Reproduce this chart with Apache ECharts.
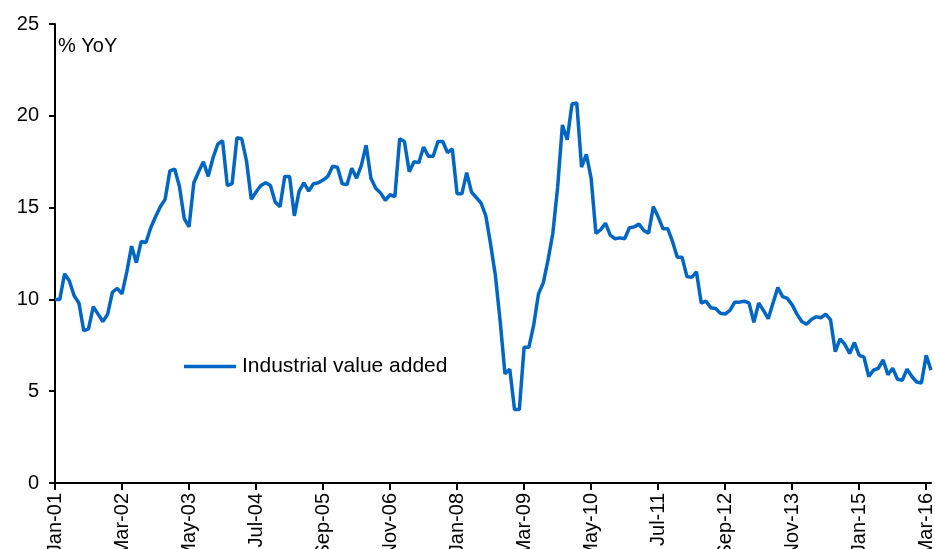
<!DOCTYPE html>
<html>
<head>
<meta charset="utf-8">
<script src="https://cdn.jsdelivr.net/npm/echarts@6/dist/echarts.min.js"></script>
<style>
html,body{margin:0;padding:0;background:#fff;}
#chart{width:935px;height:549px;}
</style>
</head>
<body>
<div id="chart"></div>
<script>
// Month names and years used to build the monthly categories (Jan-01 .. Apr-16)
const monthNames = ['Jan','Feb','Mar','Apr','May','Jun','Jul','Aug','Sep','Oct','Nov','Dec'];
const years = ['01','02','03','04','05','06','07','08','09','10','11','12','13','14','15','16'];
const lastYearMonths = 4; // 2016 data runs to April

// Industrial value added, % YoY, one array per year
const iva2001 = [10.0, 10.0, 11.4, 11.0, 10.2, 9.8, 8.3, 8.4, 9.6, 9.2, 8.8, 9.2];
const iva2002 = [10.4, 10.6, 10.3, 11.5, 12.9, 12.0, 13.15, 13.1, 13.9, 14.5, 15.05, 15.45];
const iva2003 = [17.0, 17.1, 16.15, 14.4, 13.95, 16.35, 16.95, 17.5, 16.7, 17.7, 18.45, 18.65];
const iva2004 = [16.2, 16.3, 18.8, 18.75, 17.55, 15.45, 15.85, 16.2, 16.35, 16.2, 15.3, 15.05];
const iva2005 = [16.7, 16.7, 14.55, 15.9, 16.35, 15.9, 16.3, 16.35, 16.5, 16.7, 17.25, 17.2];
const iva2006 = [16.3, 16.25, 17.15, 16.6, 17.3, 18.4, 16.6, 16.05, 15.8, 15.4, 15.7, 15.6];
const iva2007 = [18.75, 18.6, 16.95, 17.5, 17.45, 18.3, 17.8, 17.8, 18.6, 18.6, 18.0, 18.2];
const iva2008 = [15.75, 15.75, 16.9, 15.85, 15.55, 15.25, 14.55, 13.0, 11.3, 8.8, 5.95, 6.2];
const iva2009 = [4.0, 4.0, 7.4, 7.4, 8.6, 10.3, 10.9, 12.15, 13.6, 16.1, 19.5, 18.7];
const iva2010 = [20.65, 20.7, 17.2, 17.9, 16.6, 13.6, 13.8, 14.15, 13.5, 13.3, 13.35, 13.3];
const iva2011 = [13.9, 13.95, 14.1, 13.75, 13.6, 15.05, 14.5, 13.85, 13.85, 13.15, 12.3, 12.3];
const iva2012 = [11.25, 11.2, 11.5, 9.8, 9.9, 9.55, 9.5, 9.25, 9.2, 9.4, 9.85, 9.85];
const iva2013 = [9.9, 9.8, 8.75, 9.8, 9.4, 8.95, 9.8, 10.65, 10.15, 10.05, 9.7, 9.2];
const iva2014 = [8.8, 8.65, 8.9, 9.05, 9.0, 9.2, 8.9, 7.15, 7.85, 7.55, 7.05, 7.65];
const iva2015 = [6.95, 6.85, 5.8, 6.15, 6.25, 6.7, 5.9, 6.25, 5.65, 5.6, 6.2, 5.8];
const iva2016 = [5.5, 5.45, 6.95, 6.15];

// Y axis ticks
const yMin = 0, yMax = 25, yStep = 5;

const seriesName = 'Industrial value added';
const unitLabel = '% YoY';

const values = [].concat(iva2001, iva2002, iva2003, iva2004, iva2005, iva2006, iva2007,
  iva2008, iva2009, iva2010, iva2011, iva2012, iva2013, iva2014, iva2015, iva2016);

const categories = [];
years.forEach((y, yi) => {
  const n = (yi === years.length - 1) ? lastYearMonths : 12;
  for (let m = 0; m < n; m++) categories.push(monthNames[m] + '-' + y);
});

const FONT = '"Liberation Sans", Arial, sans-serif';
const LINE_COLOR = '#0066C4';
const chart = echarts.init(document.getElementById('chart'), null, {renderer: 'canvas'});
chart.setOption({
  animation: false,
  backgroundColor: '#ffffff',
  textStyle: {fontFamily: FONT, color: '#000'},
  grid: {left: 55, right: 4, top: 24, bottom: 66, containLabel: false, outerBoundsMode: 'none'},
  title: {
    text: unitLabel, left: 53, top: 31,
    textStyle: {fontFamily: FONT, fontSize: 20, fontWeight: 'normal', color: '#000'}
  },
  legend: {
    data: [{name: seriesName, icon: 'rect'}], left: 184, top: 356, itemWidth: 52, itemHeight: 3.5, itemGap: 6,
    textStyle: {fontFamily: FONT, fontSize: 21, color: '#000', padding: [0, 0, 0, 1]},
    padding: 0
  },
  xAxis: {
    type: 'category', data: categories, boundaryGap: false,
    axisLine: {lineStyle: {color: '#000', width: 2}},
    axisTick: {show: true, interval: 13, length: 7, lineStyle: {color: '#000', width: 2}},
    axisLabel: {interval: 13, rotate: 90, fontSize: 20, fontFamily: FONT, color: '#000', margin: 10},
    splitLine: {show: false}
  },
  yAxis: {
    type: 'value', min: yMin, max: yMax, interval: yStep,
    axisLine: {show: true, lineStyle: {color: '#000', width: 2}},
    axisTick: {show: true, length: 6, lineStyle: {color: '#000', width: 2}},
    axisLabel: {fontSize: 20, fontFamily: FONT, color: '#000', margin: 16},
    splitLine: {show: false}
  },
  series: [{
    name: seriesName, type: 'line', data: values, symbol: 'none', smooth: false,
    lineStyle: {color: LINE_COLOR, width: 3.5}, itemStyle: {color: LINE_COLOR}
  }]
});
</script>
</body>
</html>
